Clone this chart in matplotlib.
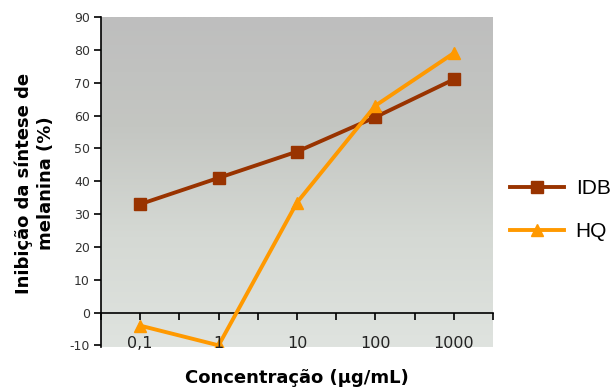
import numpy as np
import matplotlib.pyplot as plt
from matplotlib.colors import LinearSegmentedColormap

plt.rcParams['axes.unicode_minus'] = False

# data
conc_labels = ['0,1', '1', '10', '100', '1000']
idb = [33, 41, 49, 59.5, 71]
hq = [-4, -10, 33.5, 63, 79]

fig = plt.figure(figsize=(6.15, 3.87), dpi=100)
ax = fig.add_axes([101/615, 1-347/387, 392/615, 330/387])

x = np.arange(len(conc_labels))
ax.set_xlim(-0.5, len(conc_labels) - 0.5)
ax.set_ylim(-10.5, 90)

# gradient background, grey at top -> pale green-grey at bottom
cmap = LinearSegmentedColormap.from_list('bg', ['#dfe3df', '#d5d9d4', '#c4c6c2', '#bebebe'])
grad = np.linspace(0, 1, 256).reshape(-1, 1)
ax.imshow(grad, cmap=cmap, aspect='auto', origin='lower',
          extent=[0, 1, 0, 1], transform=ax.transAxes, zorder=0)

ax.plot(x, idb, color='#993300', lw=2.8, marker='s', ms=8, label='IDB', zorder=3)
ax.plot(x, hq, color='#ff9900', lw=2.8, marker='^', ms=8, label='HQ', zorder=3)

for s in ['top', 'right']:
    ax.spines[s].set_visible(False)
ax.spines['left'].set_color('black')
ax.spines['left'].set_linewidth(1.2)
ax.spines['bottom'].set_position(('data', 0))
ax.spines['bottom'].set_linewidth(1.2)

ax.set_yticks(np.arange(-10, 91, 10))
ax.tick_params(axis='y', length=5, width=1.2, labelsize=9, labelcolor='#333333', pad=3)
ax.set_xticks(np.arange(-0.5, len(conc_labels), 0.5))
ax.set_xticklabels([])
ax.tick_params(axis='x', direction='out', length=5, width=1.2)

for xi, lab in zip(x, conc_labels):
    ax.text(xi, -9.3, lab, ha='center', va='center', fontsize=11.5, color='#222222')

fig.text(297/615, 1-378/387, 'Concentração (µg/mL)', ha='center', va='center',
         fontsize=13, fontweight='bold')
fig.text(35/615, 1-183/387, 'Inibição da síntese de\nmelanina (%)', ha='center', va='center',
         rotation=90, fontsize=13, fontweight='bold', linespacing=1.25)

ax.legend(loc='center left', bbox_to_anchor=(510/615, 1-210/387),
          bbox_transform=fig.transFigure, frameon=False, handlelength=2.6,
          handletextpad=0.55, labelspacing=1.15, borderpad=0, borderaxespad=0,
          prop={'family': 'Liberation Sans', 'size': 15})

fig.savefig('out.png', dpi=100)
